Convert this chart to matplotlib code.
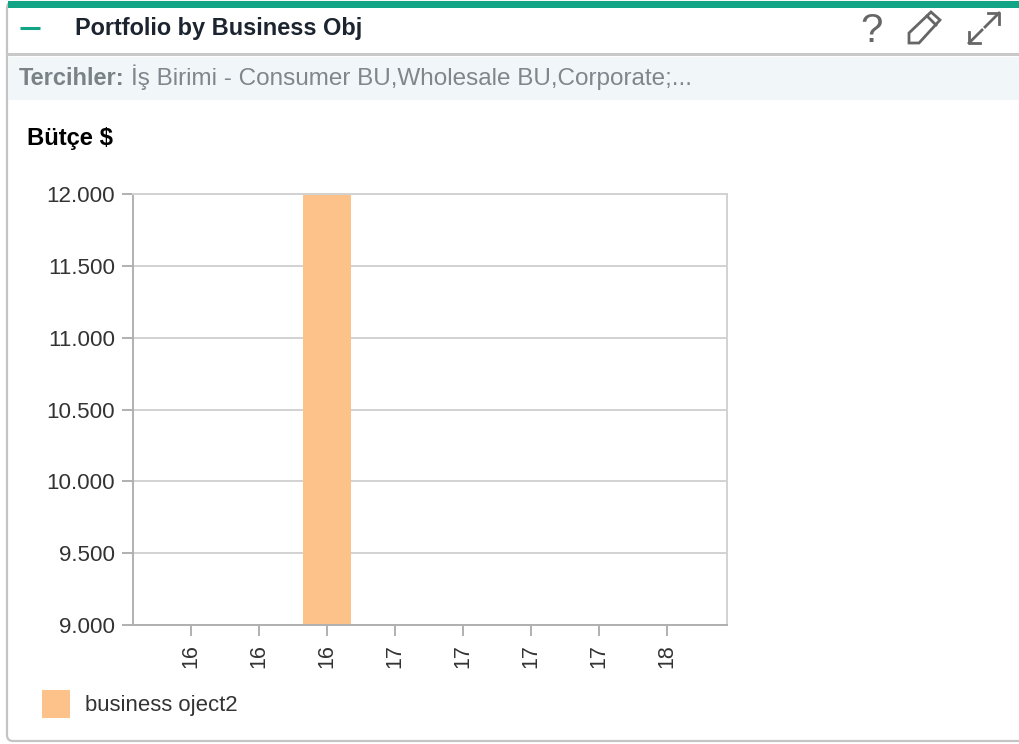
import matplotlib
matplotlib.use('Agg')
import matplotlib.pyplot as plt
from matplotlib.patches import Rectangle, FancyBboxPatch, Polygon

plt.rcParams['font.family'] = ['Liberation Sans', 'DejaVu Sans']

# data
tick_labels = ['16', '16', '16', '17', '17', '17', '17', '18']
budget = [None, None, 12000, None, None, None, None, None]
y_ticks = [9000, 9500, 10000, 10500, 11000, 11500, 12000]
y_labels = ['9.000', '9.500', '10.000', '10.500', '11.000', '11.500', '12.000']
series_name = 'business oject2'

W, H = 1019, 744
fig = plt.figure(figsize=(W / 100, H / 100), dpi=100)

# widget frame, in pixels
bg = fig.add_axes([0, 0, 1, 1])
bg.set_xlim(0, W)
bg.set_ylim(H, 0)
bg.axis('off')

bg.add_patch(FancyBboxPatch((7, 2), W + 20, H - 5, boxstyle='round,pad=0,rounding_size=6',
                            fc='white', ec='#c4c4c4', lw=1.6))
bg.add_patch(Rectangle((8, 1), W, 7, fc='#12a585', ec='none'))
bg.add_patch(Rectangle((8, 57), W, 43, fc='#f1f6f9', ec='none'))
bg.plot([8, W], [54, 54], color='#c8c8c8', lw=2.2)
bg.plot([20, 40], [28, 28], color='#12a585', lw=2.2, solid_capstyle='butt')

bg.text(75, 28, 'Portfolio by Business Obj', fontsize=16.9, fontweight='bold',
        color='#1c2430', va='center')
bg.text(19, 85, 'Tercihler:', fontsize=17, fontweight='bold', color='#7a8288', va='baseline')
bg.text(131, 85, 'İş Birimi - Consumer BU,Wholesale BU,Corporate;...', fontsize=17.5,
        color='#7f868c', va='baseline')
bg.text(27, 138, 'Bütçe $', fontsize=17.2, fontweight='bold', color='black', va='center')

# icons
icon = '#666666'
bg.text(872, 31, '?', fontsize=29, color=icon, ha='center', va='center')
bg.add_patch(Polygon([(909, 43), (909, 33), (931, 12), (940, 20), (919, 43)], closed=True,
                     fc='none', ec=icon, lw=2))
bg.plot([927, 936], [16, 25], color=icon, lw=2)
bg.plot([969, 982], [43, 30], color=icon, lw=2)
bg.plot([969, 969, 980], [32, 43, 43], color=icon, lw=2)
bg.plot([985, 999], [27, 13], color=icon, lw=2)
bg.plot([988, 999, 999], [13, 13, 24], color=icon, lw=2)

# chart
ax = fig.add_axes([133 / W, 1 - 625 / H, (727 - 133) / W, (625 - 194) / H])
x = list(range(len(tick_labels)))
heights = [0 if v is None else v for v in budget]
ax.bar(x, heights, width=0.7, color='#fdc28a', zorder=2)
ax.set_xlim(-0.853, 7.882)
ax.set_ylim(y_ticks[0], y_ticks[-1])
ax.set_xticks(x)
ax.set_xticklabels(tick_labels, rotation=90, fontsize=15.5, color='#333333')
ax.set_yticks(y_ticks)
ax.set_yticklabels(y_labels, fontsize=16.1, color='#333333')
ax.grid(axis='y', color='#d2d2d2', lw=1.4, zorder=1)
ax.tick_params(axis='y', length=8, width=1.4, color='#b0b0b0', pad=5)
ax.tick_params(axis='x', length=8, width=1.4, color='#b0b0b0', pad=6)
for side in ['left', 'bottom']:
    ax.spines[side].set_color('#b0b0b0')
    ax.spines[side].set_linewidth(1.4)
for side in ['top', 'right']:
    ax.spines[side].set_color('#d2d2d2')
    ax.spines[side].set_linewidth(1.4)

# legend
bg.add_patch(Rectangle((42, 690), 28, 28, fc='#fdc28a', ec='none'))
bg.text(85, 706, series_name, fontsize=15.9, color='#333333', va='center')

fig.savefig('out.png', dpi=100)
